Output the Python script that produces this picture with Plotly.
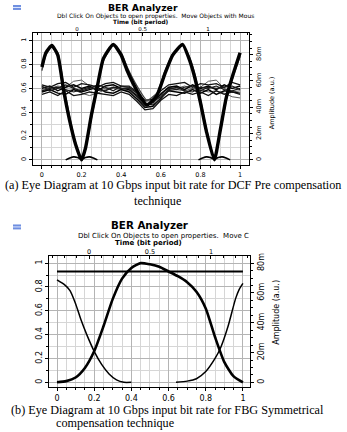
import plotly.graph_objects as go

# ---------------- Panel (a) data: DCF Pre compensation ----------------
pulse_a_x = [0.0, 0.02, 0.05, 0.08, 0.11, 0.14, 0.17, 0.20, 0.22, 0.25, 0.28, 0.31, 0.36, 0.40, 0.43,
             0.48, 0.53, 0.58, 0.62, 0.66, 0.71, 0.74, 0.77, 0.80, 0.83, 0.87, 0.90, 0.93, 0.965, 1.0]
pulse_a_y = [0.78, 0.90, 0.96, 0.88, 0.58, 0.33, 0.13, 0.0, 0.10, 0.38, 0.62, 0.85, 0.97, 0.88, 0.75,
             0.58, 0.46, 0.54, 0.72, 0.88, 0.97, 0.86, 0.70, 0.48, 0.24, 0.0, 0.25, 0.52, 0.72, 0.90]
pulse_a_alt_y = [0.75, 0.88, 0.95, 0.90, 0.62, 0.36, 0.14, 0.0, 0.09, 0.35, 0.60, 0.83, 0.96, 0.90, 0.78,
                 0.62, 0.50, 0.56, 0.74, 0.89, 0.96, 0.88, 0.73, 0.51, 0.26, 0.0, 0.23, 0.50, 0.70, 0.87]

band_x = [0.0, 0.04, 0.08, 0.12, 0.16, 0.20, 0.24, 0.28, 0.32, 0.36, 0.40, 0.44, 0.48,
          0.52, 0.56, 0.60, 0.64, 0.68, 0.72, 0.76, 0.80, 0.84, 0.88, 0.92, 0.96, 1.0]
band_1 = [0.60, 0.62, 0.58, 0.61, 0.63, 0.60, 0.62, 0.58, 0.62, 0.63, 0.60, 0.59, 0.54,
          0.47, 0.48, 0.55, 0.61, 0.62, 0.59, 0.63, 0.60, 0.62, 0.59, 0.63, 0.60, 0.62]
band_2 = [0.57, 0.59, 0.56, 0.55, 0.59, 0.57, 0.59, 0.61, 0.57, 0.56, 0.59, 0.57, 0.51,
          0.44, 0.45, 0.52, 0.58, 0.57, 0.56, 0.59, 0.56, 0.59, 0.55, 0.58, 0.57, 0.56]
band_3 = [0.63, 0.61, 0.64, 0.65, 0.61, 0.64, 0.63, 0.61, 0.64, 0.65, 0.62, 0.62, 0.57,
          0.50, 0.51, 0.58, 0.63, 0.64, 0.65, 0.61, 0.64, 0.63, 0.64, 0.61, 0.65, 0.63]
band_4 = [0.55, 0.57, 0.54, 0.58, 0.54, 0.55, 0.57, 0.56, 0.55, 0.54, 0.57, 0.55, 0.49,
          0.42, 0.43, 0.50, 0.55, 0.54, 0.57, 0.55, 0.57, 0.54, 0.58, 0.55, 0.57, 0.55]
band_5 = [0.61, 0.60, 0.62, 0.61, 0.66, 0.67, 0.62, 0.58, 0.60, 0.61, 0.60, 0.61, 0.55,
          0.49, 0.50, 0.56, 0.61, 0.60, 0.62, 0.60, 0.61, 0.66, 0.67, 0.60, 0.57, 0.58]
band_6 = [0.59, 0.58, 0.60, 0.58, 0.59, 0.56, 0.54, 0.56, 0.59, 0.60, 0.59, 0.58, 0.53,
          0.46, 0.47, 0.54, 0.58, 0.59, 0.58, 0.60, 0.59, 0.57, 0.58, 0.56, 0.53, 0.52]
band_7 = [0.58, 0.60, 0.61, 0.59, 0.57, 0.59, 0.61, 0.59, 0.58, 0.61, 0.60, 0.60, 0.52,
          0.45, 0.49, 0.53, 0.59, 0.61, 0.58, 0.57, 0.61, 0.60, 0.62, 0.59, 0.58, 0.60]
band_8 = [0.62, 0.58, 0.60, 0.63, 0.60, 0.58, 0.60, 0.63, 0.61, 0.58, 0.62, 0.61, 0.56,
          0.48, 0.46, 0.51, 0.60, 0.59, 0.61, 0.62, 0.58, 0.61, 0.60, 0.61, 0.62, 0.59]

hump_a1_x = [0.12, 0.14, 0.16, 0.18, 0.20, 0.22, 0.24, 0.26, 0.28]
hump_a1_y = [0.0, 0.015, 0.025, 0.02, 0.005, 0.02, 0.025, 0.015, 0.0]
hump_a2_x = [0.79, 0.81, 0.83, 0.85, 0.87, 0.89, 0.91, 0.93, 0.95]
hump_a2_y = [0.0, 0.015, 0.025, 0.02, 0.005, 0.02, 0.025, 0.015, 0.0]

# ---------------- Panel (b) data: FBG Symmetrical compensation ----------------
flat_b_x = [0.0, 1.0]
flat_b_y = [0.93, 0.93]
dome_b_x = [0.0, 0.05, 0.10, 0.15, 0.20, 0.25, 0.30, 0.35, 0.40, 0.45, 0.50,
            0.55, 0.60, 0.65, 0.70, 0.75, 0.80, 0.85, 0.90, 0.95, 1.0]
dome_b_y = [0.0, 0.01, 0.04, 0.12, 0.26, 0.47, 0.70, 0.87, 0.96, 1.0, 0.99,
            0.97, 0.93, 0.89, 0.84, 0.76, 0.62, 0.38, 0.17, 0.05, 0.0]
fall_b_x = [0.0, 0.04, 0.07, 0.10, 0.13, 0.16, 0.20, 0.24, 0.28, 0.32, 0.36, 0.40]
fall_b_y = [0.86, 0.82, 0.77, 0.66, 0.52, 0.40, 0.26, 0.15, 0.07, 0.02, 0.0, 0.0]
rise_b_x = [0.64, 0.70, 0.75, 0.80, 0.85, 0.88, 0.92, 0.96, 0.98, 1.0]
rise_b_y = [0.0, 0.01, 0.03, 0.09, 0.20, 0.29, 0.47, 0.70, 0.78, 0.83]

# ---------------- tick labels ----------------
bottom_vals = [0, 0.2, 0.4, 0.6, 0.8, 1]
bottom_text = ["0", "0.2", "0.4", "0.6", "0.8", "1"]
left_vals = [0, 0.2, 0.4, 0.6, 0.8, 1]
left_text = ["0", "0.2", "0.4", "0.6", "0.8", "1"]
top_vals = [0, 0.5, 1]
top_text = ["0", "0.5", "1"]
right_vals = [0, 20, 40, 60, 80]
right_text = ["0", "20m", "40m", "60m", "80m"]

W, H = 347, 432


def fx(p):
    return p / W


def fy(p):
    return 1 - p / H


SANS = "DejaVu Sans"
SERIF = "Liberation Serif"

fig = go.Figure()


def line(x, y, xa, ya, color="black", width=1.0, shape="linear", smooth=None):
    ln = dict(color=color, width=width, shape=shape)
    if smooth is not None:
        ln["smoothing"] = smooth
    fig.add_trace(go.Scatter(x=x, y=y, mode="lines", line=ln, xaxis=xa, yaxis=ya,
                             showlegend=False, hoverinfo="skip"))


# panel a
for ys, col, w in [(band_5, "#5a5a5a", 1.0), (band_6, "#5a5a5a", 1.0), (band_1, "#000000", 1.4),
                   (band_2, "#000000", 1.4), (band_3, "#111111", 1.3), (band_4, "#111111", 1.3),
                   (band_7, "#1a1a1a", 1.2), (band_8, "#1a1a1a", 1.2)]:
    line(band_x, ys, "x", "y", col, w)
line(pulse_a_x, pulse_a_alt_y, "x", "y", "#444444", 1.4, "spline", 0.5)
line(pulse_a_x, pulse_a_y, "x", "y", "black", 3.4, "spline", 0.5)
line(hump_a1_x, hump_a1_y, "x", "y", "black", 1.6, "spline", 0.8)
line(hump_a2_x, hump_a2_y, "x", "y", "black", 1.6, "spline", 0.8)
# dummy traces so secondary axes are drawn
line([], [], "x2", "y")
line([], [], "x", "y2")

# panel b
line(flat_b_x, flat_b_y, "x3", "y3", "black", 2.0)
line(dome_b_x, dome_b_y, "x3", "y3", "black", 2.6, "spline", 0.6)
line(fall_b_x, fall_b_y, "x3", "y3", "black", 1.5, "spline", 0.6)
line(rise_b_x, rise_b_y, "x3", "y3", "black", 1.5, "spline", 0.6)
line([], [], "x4", "y3")
line([], [], "x3", "y4")


def axis(**kw):
    base = dict(showline=True, linecolor="black", linewidth=1, zeroline=False,
                ticks="outside", ticklen=3, tickcolor="black", tickwidth=1,
                fixedrange=True, showgrid=False, tickmode="array")
    base.update(kw)
    return base


def minor(dtick, grid=False, gc="#d6d6d6", tl=2, ticks="outside"):
    return dict(dtick=dtick, tick0=0, ticks=ticks, ticklen=tl, tickcolor="black",
                showgrid=grid, gridcolor=gc, gridwidth=1)


fa = dict(family=SANS, size=6.5, color="black")
fb = dict(family=SANS, size=8, color="black")
fat = dict(family=SANS, size=5.5, color="black")
fbt = dict(family=SANS, size=6.5, color="black")
GRID = "#b4b4b4"

xa_dom = [fx(33), fx(249)]
ya_dom = [fy(163.5), fy(30)]
xb_dom = [fx(49), fx(250)]
yb_dom = [fy(387), fy(255)]

fig.update_layout(
    width=W, height=H, margin=dict(l=0, r=0, t=0, b=0),
    paper_bgcolor="white", plot_bgcolor="white", showlegend=False,
    xaxis=axis(domain=xa_dom, anchor="y", range=[-0.045, 1.045], tickvals=bottom_vals,
               ticktext=bottom_text, tickfont=fa, showgrid=True, gridcolor=GRID,
               minor=minor(0.05, True)),
    xaxis2=axis(overlaying="x", side="top", anchor="y", range=[-0.336, 1.313],
                tickvals=top_vals, ticktext=top_text, tickfont=fat, ticks="inside",
                ticklabelstandoff=-1, minor=minor(0.1, ticks="inside")),
    yaxis=axis(domain=ya_dom, anchor="x", range=[-0.046, 1.067], tickvals=left_vals,
               ticktext=left_text, tickangle=-90, tickfont=fa, showgrid=True,
               gridcolor=GRID, minor=minor(0.1, True)),
    yaxis2=axis(overlaying="y", side="right", anchor="x", range=[-4.15, 96.6],
                tickvals=right_vals, ticktext=right_text, tickangle=-90, tickfont=fa,
                minor=minor(5)),
    xaxis3=axis(domain=xb_dom, anchor="y3", range=[-0.043, 1.038], tickvals=bottom_vals,
                ticktext=bottom_text, tickfont=fb, showgrid=True, gridcolor=GRID,
                minor=minor(0.05, True)),
    xaxis4=axis(overlaying="x3", side="top", anchor="y3", range=[-0.328, 1.32],
                tickvals=top_vals, ticktext=top_text, tickfont=fbt, ticks="inside",
                ticklabelstandoff=-1, minor=minor(0.1, ticks="inside")),
    yaxis3=axis(domain=yb_dom, anchor="x3", range=[-0.042, 1.058], tickvals=left_vals,
                ticktext=left_text, tickangle=-90, tickfont=fb, showgrid=True,
                gridcolor=GRID, minor=minor(0.1, True)),
    yaxis4=axis(overlaying="y3", side="right", anchor="x3", range=[-3.33, 84.67],
                tickvals=right_vals, ticktext=right_text, tickangle=-90, tickfont=fb,
                minor=minor(5)),
)

ann = []


def text(t, x, y, size, family=SANS, bold=False, angle=0, xanchor="center"):
    s = "<b>%s</b>" % t if bold else t
    ann.append(dict(text=s, x=fx(x), y=fy(y), xref="paper", yref="paper", showarrow=False,
                    xanchor=xanchor, yanchor="middle", textangle=angle, borderpad=0,
                    font=dict(family=family, size=size, color="black")))


# panel a texts
text("BER Analyzer", 143, 5.0, 9.3, bold=True)
text("Dbl Click On Objects to open properties.  Move Objects with Mous", 155, 13.5, 6.0)
text("Time (bit period)", 141, 19.3, 5.8, bold=True)
text("Amplitude (a.u.)", 272, 101, 6.5, angle=-90)
text("(a) Eye Diagram at 10 Gbps input bit rate for DCF Pre compensation", 173, 183, 12.2, SERIF)
text("technique", 157, 199, 12.2, SERIF)

# panel b texts
text("BER Analyzer", 150, 224.0, 10.3, bold=True)
text("Dbl Click On Objects to open properties.  Move C", 163, 234.4, 7.0)
text("Time (bit period)", 148, 242.0, 7, bold=True)
text("Amplitude (a.u.)", 277, 312, 8, angle=-90)
text("(b) Eye Diagram at 10 Gbps input bit rate for FBG Symmetrical", 167, 410, 12.2, SERIF)
text("compensation technique", 115, 423, 12.2, SERIF)

fig.update_layout(annotations=ann)

shapes = []
for top in (2, 223):
    shapes.append(dict(type="rect", xref="paper", yref="paper", x0=fx(13), x1=fx(21),
                       y0=fy(top + 5), y1=fy(top), fillcolor="#6f8fe0", line=dict(width=0)))
    shapes.append(dict(type="line", xref="paper", yref="paper", x0=fx(13), x1=fx(21),
                       y0=fy(top + 2.5), y1=fy(top + 2.5), line=dict(color="#dfe8ff", width=1)))
fig.update_layout(shapes=shapes)

fig.write_html("out.html")
